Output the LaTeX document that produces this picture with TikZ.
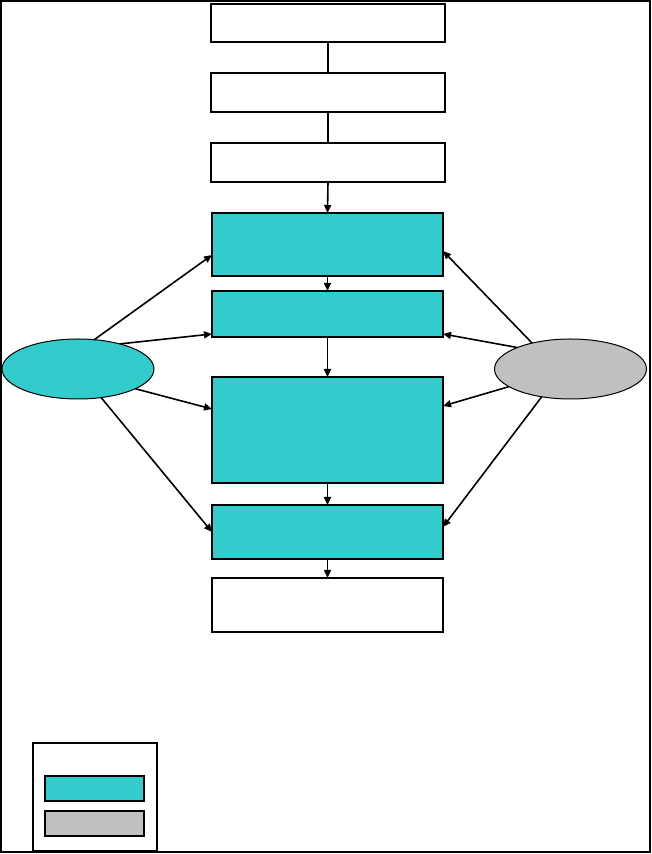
\documentclass[tikz,border=0pt]{standalone}
\usetikzlibrary{arrows.meta,shapes.geometric}
\definecolor{tealfill}{HTML}{33CCCC}
\definecolor{grayfill}{HTML}{C0C0C0}
\begin{document}
\begin{tikzpicture}[x=1pt,y=1pt,
  box/.style={draw=black,line width=1.4pt,rectangle,inner sep=0pt,outer sep=0pt},
  wbox/.style={box,fill=white,minimum width=234pt},
  tbox/.style={box,fill=tealfill,minimum width=231pt},
  ell/.style={draw=black,line width=1pt,ellipse,inner sep=0pt,outer sep=0pt,minimum width=152pt,minimum height=60pt},
  conn/.style={line width=1.6pt},
  arr/.style={line width=1.6pt,-{Triangle[length=8pt,width=7pt]}}]
\useasboundingbox (0,0) rectangle (651,854);
\node[draw=black,line width=1.6pt,rectangle,inner sep=0pt,minimum width=649pt,minimum height=851pt] (frame) at (325.5,427.5) {};
\node[wbox,minimum height=38pt] (b1) at (328,831) {};
\node[wbox,minimum height=39pt] (b2) at (328,761.5) {};
\node[wbox,minimum height=39pt] (b3) at (328,691.5) {};
\node[tbox,minimum height=63pt] (b4) at (327.5,609.5) {};
\node[tbox,minimum height=46pt] (b5) at (327.5,540) {};
\node[tbox,minimum height=106pt] (b6) at (327.5,424) {};
\node[tbox,minimum height=54pt] (b7) at (327.5,322) {};
\node[box,fill=white,minimum width=231pt,minimum height=54pt] (b8) at (327.5,249) {};
\node[ell,fill=tealfill] (L) at (78,485) {};
\node[ell,fill=grayfill] (R) at (570.5,485) {};
% legend
\node[box,fill=white,minimum width=124pt,minimum height=108pt] (leg) at (95,57) {};
\node[box,fill=tealfill,minimum width=99pt,minimum height=25pt] (legt) at (94.5,65.5) {};
\node[box,fill=grayfill,minimum width=99pt,minimum height=25pt] (legg) at (94.5,30.5) {};
% vertical connectors
\draw[conn] (b1.south) -- (b2.north);
\draw[conn] (b2.south) -- (b3.north);
\draw[arr] (b3.south) -- (b4.north);
\draw[arr] (b4.south) -- (b5.north);
\draw[arr] (b5.south) -- (b6.north);
\draw[arr] (b6.south) -- (b7.north);
\draw[arr] (b7.south) -- (b8.north);
% left ellipse arrows
\draw[arr] (L.61) -- ([yshift=-10.5pt]b4.west);
\draw[arr] (L.31) -- ([yshift=-20pt]b5.west);
\draw[arr] (L.-19) -- ([yshift=21pt]b6.west);
\draw[arr] (L.-51) -- (b7.west);
% right ellipse arrows
\draw[arr] (R.146) -- ([yshift=-6.5pt]b4.east);
\draw[arr] (R.158) -- ([yshift=-20pt]b5.east);
\draw[arr] (R.196) -- ([yshift=24pt]b6.east);
\draw[arr] (R.224) -- ([yshift=5pt]b7.east);
\end{tikzpicture}
\end{document}
